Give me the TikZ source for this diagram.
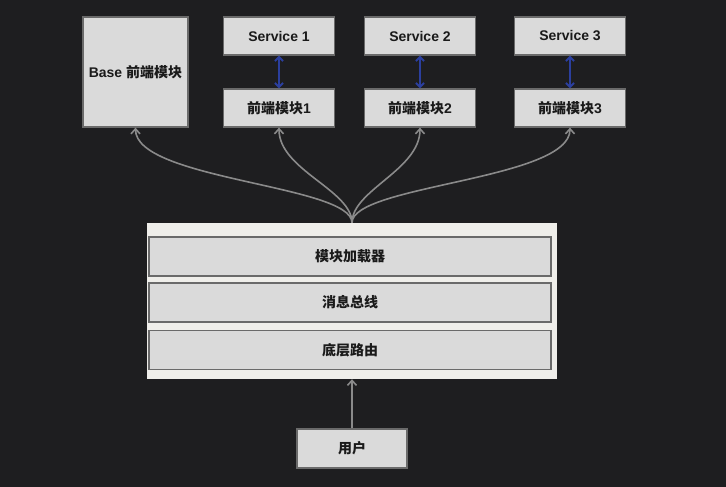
\documentclass[tikz,border=0pt]{standalone}
\usepackage{fontspec}
\setmainfont{Liberation Sans}
\newfontfamily\cjk{Noto Sans CJK SC}
\usetikzlibrary{arrows.meta}
\definecolor{bgc}{HTML}{1E1E20}
\definecolor{boxfill}{HTML}{DADADA}
\definecolor{boxline}{HTML}{6A6A6A}
\definecolor{contfill}{HTML}{EFEEEA}
\definecolor{curvec}{HTML}{8A8A8A}
\definecolor{bluec}{HTML}{2B3F9E}
\definecolor{txt}{HTML}{1A1A1A}
\begin{document}
\begin{tikzpicture}[x=1pt,y=-1pt,
  box/.style={draw=boxline, fill=boxfill, line width=1.3pt, inner sep=0pt,
    font=\fontsize{14}{16}\selectfont\bfseries, text=txt},
  cbox/.style={box, font=\fontsize{14}{16}\selectfont\cjk\bfseries},
  fanline/.style={draw=curvec, line width=1.6pt, -{Straight Barb[length=5pt,width=9pt]}},
  bilink/.style={draw=bluec, line width=2pt, {Straight Barb[length=4pt,width=8pt]}-{Straight Barb[length=4pt,width=8pt]}}]
\fill[bgc] (0,0) rectangle (726,487);
\useasboundingbox (0,0) rectangle (726,487);

\node[box, minimum width=105pt, minimum height=110pt] (base) at (135.5,72) {Base {\cjk 前端模块}};
\node[box, minimum width=111pt, minimum height=38pt] (s1) at (279,36) {Service 1};
\node[box, minimum width=111pt, minimum height=38pt] (s2) at (420,36) {Service 2};
\node[box, minimum width=111pt, minimum height=38pt] (s3) at (570,36) {Service 3};
\node[box, minimum width=111pt, minimum height=38pt] (f1) at (279,108) {{\cjk 前端模块}1};
\node[box, minimum width=111pt, minimum height=38pt] (f2) at (420,108) {{\cjk 前端模块}2};
\node[box, minimum width=111pt, minimum height=38pt] (f3) at (570,108) {{\cjk 前端模块}3};

\node[draw=none, fill=contfill, minimum width=410pt, minimum height=156pt, inner sep=0pt] (cont) at (352,301) {};
\node[cbox, minimum width=402pt, minimum height=39pt] (b1) at (350,256.5) {模块加载器};
\node[cbox, minimum width=402pt, minimum height=39pt] (b2) at (350,302.5) {消息总线};
\node[cbox, minimum width=402pt, minimum height=39pt] (b3) at (350,350) {底层路由};

\node[cbox, minimum width=110pt, minimum height=39pt] (user) at (352,448.5) {用户};

\draw[bilink] (s1.south) -- (f1.north);
\draw[bilink] (s2.south) -- (f2.north);
\draw[bilink] (s3.south) -- (f3.north);

\draw[fanline] (cont.north) .. controls (352,185) and (135.5,180) .. (base.south);
\draw[fanline] (cont.north) .. controls (352,190) and (279,170) .. (f1.south);
\draw[fanline] (cont.north) .. controls (352,190) and (420,170) .. (f2.south);
\draw[fanline] (cont.north) .. controls (352,185) and (570,180) .. (f3.south);

\draw[fanline] (user.north) -- (cont.south);
\end{tikzpicture}
\end{document}
